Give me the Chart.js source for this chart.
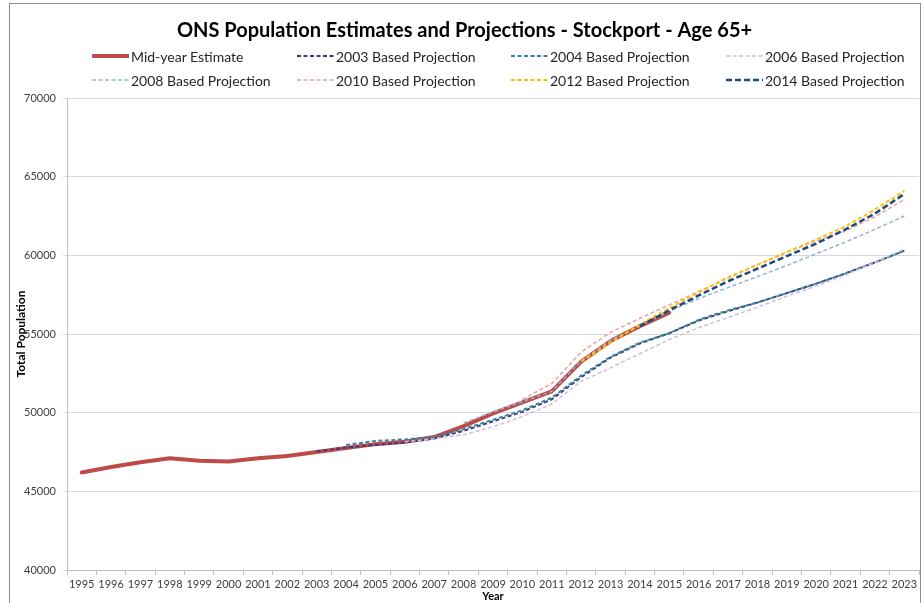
<!DOCTYPE html>
<html>
<head>
<meta charset="utf-8">
<script src="https://cdn.jsdelivr.net/npm/chart.js@4"></script>
<style>
  body { margin: 0; background: #fff; }
  #wrap { position: relative; width: 922px; height: 603px; overflow: hidden; }
  #frame { position: absolute; left: 9px; top: 3px; width: 910px; height: 610px; border: 1px solid #8c8c8c; pointer-events: none; }
  #legend { position: absolute; left: 92px; top: 44px; display: grid; grid-template-columns: 205px 214px 215px 200px; grid-auto-rows: 24px; font: 14px Lato, sans-serif; color: #262626; }
  #legend .item { display: flex; align-items: center; white-space: nowrap; }
  #legend svg { margin-right: 2px; }
</style>
</head>
<body>
<div id="wrap">
  <canvas id="myChart" width="922" height="603"></canvas>
  <div id="frame"></div>
  <div id="legend"></div>
</div>
<script>
// Anos do eixo x
const years = ["1995", "1996", "1997", "1998", "1999", "2000", "2001", "2002", "2003", "2004",
  "2005", "2006", "2007", "2008", "2009", "2010", "2011", "2012", "2013", "2014",
  "2015", "2016", "2017", "2018", "2019", "2020", "2021", "2022", "2023"];

// Mid-year estimate, 1995-2015
const midYear = [46200, 46550, 46850, 47100, 46950, 46900, 47100, 47250, 47500, 47750,
  48000, 48150, 48450, 49150, 49950, 50650, 51350, 53250, 54550, 55500, 56350];

// Projeções (cada uma começa no seu ano base)
const proj2003 = [47550, 47780, 47950, 48100, 48350, 48850, 49450, 50050, 50850, 52250,
  53500, 54400, 55050, 55850, 56450, 57000, 57600, 58200, 58850, 59550, 60300];
const proj2004 = [47950, 48200, 48300, 48450, 48950, 49550, 50150, 50950, 52350, 53550,
  54450, 55050, 55900, 56500, 57000, 57600, 58200, 58850, 59550, 60300];
const proj2006 = [48150, 48350, 48600, 49100, 49750, 50550, 52000, 52850, 53750, 54650,
  55400, 56050, 56700, 57400, 58050, 58750, 59550, 60400];
const proj2008 = [49350, 50050, 50700, 51350, 53300, 54600, 55500, 56450, 57250, 57950,
  58650, 59350, 60100, 60850, 61650, 62500];
const proj2010 = [50850, 51850, 53850, 55100, 56000, 56850, 57700, 58550, 59400, 60200,
  60900, 61550, 62450, 63550];
const proj2012 = [53250, 54450, 55600, 56650, 57650, 58600, 59400, 60200, 61000, 61850,
  62900, 64100];
const proj2014 = [55500, 56500, 57450, 58350, 59150, 59950, 60750, 61650, 62650, 63900];

// Coloca a série no ano certo (o resto fica null)
function fromYear(start, values) {
  const out = years.map(() => null);
  const i0 = years.indexOf(String(start));
  values.forEach((v, i) => { out[i0 + i] = v; });
  return out;
}

const font = "Lato, sans-serif";

function projection(label, color, data, width, dash) {
  return {
    label: label,
    data: data,
    borderColor: color,
    backgroundColor: color,
    borderWidth: width,
    borderDash: dash,
    pointRadius: 0,
    tension: 0
  };
}

const datasets = [
  {
    label: "Mid-year Estimate",
    data: fromYear(1995, midYear),
    borderColor: "#BE4B48",
    backgroundColor: "#BE4B48",
    borderWidth: 4,
    borderJoinStyle: "round",
    borderCapStyle: "round",
    pointRadius: 0,
    tension: 0
  },
  projection("2003 Based Projection", "#403C7C", fromYear(2003, proj2003), 2, [4, 2.5]),
  projection("2004 Based Projection", "#31859C", fromYear(2004, proj2004), 2, [4, 2.5]),
  projection("2006 Based Projection", "#CCC1DA", fromYear(2006, proj2006), 1.5, [4, 2.5]),
  projection("2008 Based Projection", "#95B3D7", fromYear(2008, proj2008), 1.5, [4, 2.5]),
  projection("2010 Based Projection", "#E6A3A1", fromYear(2010, proj2010), 1.5, [4, 2.5]),
  projection("2012 Based Projection", "#FFC000", fromYear(2012, proj2012), 2, [4, 2.5]),
  projection("2014 Based Projection", "#1F497D", fromYear(2014, proj2014), 2.5, [6, 3])
];
// Excel desenha a última série por cima
datasets.forEach((d, i) => { d.order = datasets.length - i; });

const chart = new Chart("myChart", {
  type: "line",
  data: { labels: years, datasets: datasets },
  options: {
    responsive: false,
    animation: false,
    layout: { padding: { left: 10, right: 3, top: 0, bottom: 0 } },
    plugins: {
      legend: { display: false },
      tooltip: { enabled: false },
      title: {
        display: true,
        text: "ONS Population Estimates and Projections - Stockport - Age 65+",
        color: "#000",
        font: { family: font, size: 20, weight: "bold" },
        padding: { top: 19, bottom: 55 }
      }
    },
    scales: {
      x: {
        offset: true,
        afterFit: (s) => { s.height = 33; },
        grid: { display: true, drawOnChartArea: false, offset: true, tickLength: 5, color: "#BFBFBF" },
        border: { color: "#BFBFBF" },
        ticks: { autoSkip: false, maxRotation: 0, padding: 3, color: "#404040", font: { family: font, size: 11 } },
        title: { display: true, text: "Year", color: "#000", padding: 0, font: { family: font, size: 11, weight: "bold" } }
      },
      y: {
        min: 40000,
        max: 70000,
        afterFit: (s) => { s.width = 57; },
        grid: { color: "#D9D9D9", tickLength: 4 },
        border: { color: "#BFBFBF" },
        ticks: { stepSize: 5000, padding: 7, color: "#404040", font: { family: font, size: 11 },
          callback: (v) => String(v) },
        title: { display: true, text: "Total Population", color: "#000", padding: { top: 4, bottom: 0 }, font: { family: font, size: 12, weight: "bold" } }
      }
    }
  }
});

// Legenda em HTML, 4 colunas como no Excel
const legend = document.getElementById("legend");
chart.data.datasets.forEach((d) => {
  const item = document.createElement("div");
  item.className = "item";
  const dash = d.borderDash ? d.borderDash.join(",") : "none";
  item.innerHTML = '<svg width="37" height="8"><line x1="0" y1="4" x2="37" y2="4" stroke="' + d.borderColor +
    '" stroke-width="' + d.borderWidth + '" stroke-dasharray="' + dash + '"/></svg><span>' + d.label + '</span>';
  legend.appendChild(item);
});
</script>
</body>
</html>
